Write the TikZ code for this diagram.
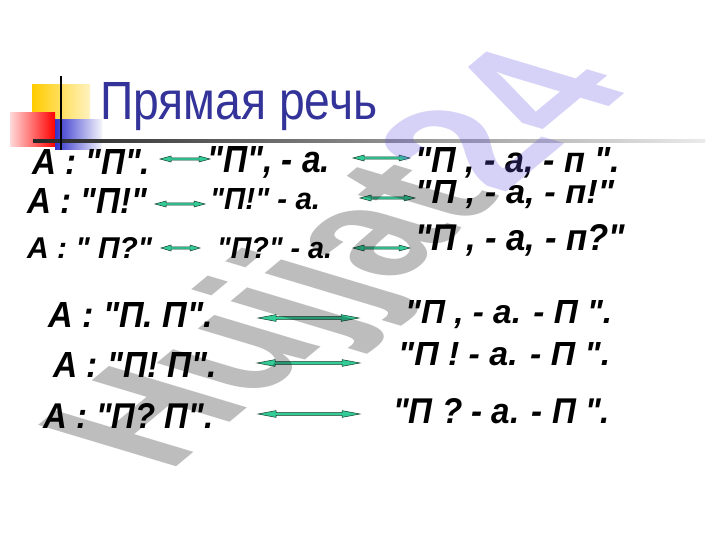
\documentclass[tikz,border=0pt]{standalone}
\usepackage{fontspec}
\usepackage{graphicx}
\newfontfamily\rfont{Liberation Sans}
\usetikzlibrary{calc}
\definecolor{titleblue}{RGB}{51,51,153}
\definecolor{arrowfill}{RGB}{51,204,153}
\definecolor{arrowline}{RGB}{20,60,40}
\definecolor{wmpurple}{RGB}{100,80,225}
\definecolor{sqyellow}{RGB}{255,204,0}
\definecolor{sqred}{RGB}{255,0,0}
\definecolor{sqblue}{RGB}{51,51,204}
\newcommand\fitbox[3]{\resizebox{#1pt}{#2pt}{#3}}
\newcommand\lrarrow[5]{\filldraw[arr] (#1) -- ($(#1)+(#3,#4)$) -- ($(#1)+(#3,#5)$) -- ($(#2)+(-#3,#5)$) -- ($(#2)+(-#3,#4)$) -- (#2) -- ($(#2)+(-#3,-#4)$) -- ($(#2)+(-#3,-#5)$) -- ($(#1)+(#3,-#5)$) -- ($(#1)+(#3,-#4)$) -- cycle;}
\tikzset{
  txt/.style={inner sep=0pt, anchor=base west, font=\rfont\bfseries\itshape},
  arr/.style={fill=arrowfill, draw=arrowline, line width=0.5pt, line join=miter},
  wmark/.style={inner sep=0pt, anchor=base west, opacity=0.26, font=\rfont\fontsize{234}{234}\selectfont\bfseries}
}
\begin{document}
\begin{tikzpicture}[x=1pt,y=-1pt]
\useasboundingbox[fill=white] (0,0) rectangle (720,540);
% decoration
\shade[left color=sqyellow, middle color=sqyellow, right color=sqyellow!25] (32,85) rectangle (90,123);
\shade[left color=sqred!15, right color=sqred] (10,113) rectangle (55,147);
\shade[left color=sqblue, middle color=sqblue!75, right color=sqblue!5] (55,120) rectangle (102,150);
\shade[left color=black!85, right color=black!8] (33,139.5) rectangle (705,142.5);
\draw[line width=1.6pt, black] (61,76) -- (61,150);
% title
\node[inner sep=0pt, anchor=base west, font=\rfont, text=titleblue] (title) at (100,120) {\fitbox{277}{37}{Прямая речь}};
% rows
\node[txt] (r1l) at (32,175) {\fitbox{118}{25}{А : "П".}};
\node[txt] (r1m) at (207,173) {\fitbox{123}{26}{"П", - а.}};
\node[txt] (r1r) at (415,173) {\fitbox{205}{25}{"П , - а, - п ".}};
\node[txt] (r2l) at (27,213) {\fitbox{120}{25}{А : "П!"}};
\node[txt] (r2m) at (210,210) {\fitbox{110}{21}{"П!" - а.}};
\node[txt] (r2r) at (415,204) {\fitbox{199}{23}{"П , - а, - п!"}};
\node[txt] (r3l) at (27,258) {\fitbox{125}{21}{А : " П?"}};
\node[txt] (r3m) at (217,258) {\fitbox{115}{21}{"П?" - а.}};
\node[txt] (r3r) at (415,251) {\fitbox{210}{26}{"П , - а, - п?"}};
\node[txt] (l4) at (48,327) {\fitbox{165}{25}{А : "П. П".}};
\node[txt] (l5) at (53,377) {\fitbox{164}{25}{А : "П! П".}};
\node[txt] (l6) at (43,428) {\fitbox{170}{25}{А : "П? П".}};
\node[txt] (r4) at (405,323) {\fitbox{207}{23}{"П , - а. - П ".}};
\node[txt] (r5) at (398,365) {\fitbox{212}{23}{"П ! - а. - П ".}};
\node[txt] (r6) at (393,423) {\fitbox{217}{25}{"П ? - а. - П ".}};
% arrows
\coordinate (a1s) at (160,159); \coordinate (a1e) at (210,159);
\coordinate (b1s) at (353,158); \coordinate (b1e) at (410,158);
\coordinate (a2s) at (155,204); \coordinate (a2e) at (205,204);
\coordinate (b2s) at (360,198); \coordinate (b2e) at (415,198);
\coordinate (a3s) at (161,248); \coordinate (a3e) at (200,248);
\coordinate (b3s) at (353,248); \coordinate (b3e) at (410,248);
\coordinate (c4s) at (258,318); \coordinate (c4e) at (359,318);
\coordinate (c5s) at (257,363); \coordinate (c5e) at (360,363);
\coordinate (c6s) at (258,414); \coordinate (c6e) at (360,414);
\lrarrow{a1s}{a1e}{11}{3}{1.1}
\lrarrow{b1s}{b1e}{11}{3}{1.1}
\lrarrow{a2s}{a2e}{11}{3}{1.1}
\lrarrow{b2s}{b2e}{11}{3}{1.1}
\lrarrow{a3s}{a3e}{10}{3}{1.1}
\lrarrow{b3s}{b3e}{11}{3}{1.1}
\lrarrow{c4s}{c4e}{18}{3.4}{1.3}
\lrarrow{c5s}{c5e}{18}{3.4}{1.3}
\lrarrow{c6s}{c6e}{18}{3.4}{1.3}
% watermark
\begin{scope}[shift={(168,474)}, yscale=0.5, transform shape]
\node[wmark, rotate=59] (wm) at (0,0) {\color{black}Hujjat\color{wmpurple}24};
\end{scope}
\end{tikzpicture}
\end{document}
